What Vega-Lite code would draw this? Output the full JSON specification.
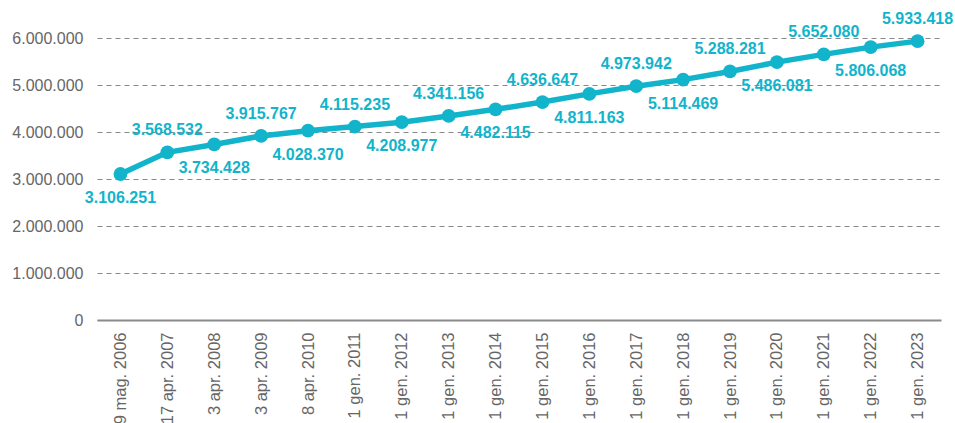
{
  "$schema": "https://vega.github.io/schema/vega-lite/v6.json",
  "width": 844,
  "height": 282,
  "autosize": {"type": "none"},
  "padding": {"left": 97, "top": 38, "right": 14, "bottom": 103},
  "config": {"view": {"stroke": null}, "font": "Liberation Sans"},
  "data": {
    "values": [
      {"date": "9 mag. 2006", "value": 3106251},
      {"date": "17 apr. 2007", "value": 3568532},
      {"date": "3 apr. 2008", "value": 3734428},
      {"date": "3 apr. 2009", "value": 3915767},
      {"date": "8 apr. 2010", "value": 4028370},
      {"date": "1 gen. 2011", "value": 4115235},
      {"date": "1 gen. 2012", "value": 4208977},
      {"date": "1 gen. 2013", "value": 4341156},
      {"date": "1 gen. 2014", "value": 4482115},
      {"date": "1 gen. 2015", "value": 4636647},
      {"date": "1 gen. 2016", "value": 4811163},
      {"date": "1 gen. 2017", "value": 4973942},
      {"date": "1 gen. 2018", "value": 5114469},
      {"date": "1 gen. 2019", "value": 5288281},
      {"date": "1 gen. 2020", "value": 5486081},
      {"date": "1 gen. 2021", "value": 5652080},
      {"date": "1 gen. 2022", "value": 5806068},
      {"date": "1 gen. 2023", "value": 5933418}
    ]
  },
  "transform": [
    {"window": [{"op": "row_number", "as": "idx"}]},
    {"calculate": "replace(format(datum.value, ','), regexp(',', 'g'), '.')", "as": "label"}
  ],
  "encoding": {
    "x": {
      "field": "date",
      "type": "ordinal",
      "sort": null,
      "title": null,
      "axis": {
        "labelAngle": -90,
        "labelFontSize": 16.5,
        "labelColor": "#666666",
        "labelPadding": 12,
        "ticks": false,
        "domainColor": "#8a8a8a",
        "domainWidth": 2,
        "grid": false
      }
    },
    "y": {
      "field": "value",
      "type": "quantitative",
      "title": null,
      "scale": {"domain": [0, 6000000], "nice": false},
      "axis": {
        "values": [0, 1000000, 2000000, 3000000, 4000000, 5000000, 6000000],
        "labelExpr": "replace(format(datum.value, ','), regexp(',', 'g'), '.')",
        "labelFontSize": 16,
        "labelColor": "#666666",
        "labelPadding": 14,
        "ticks": false,
        "domain": false,
        "grid": true,
        "gridColor": "#888888",
        "gridDash": [5, 4],
        "gridWidth": 1
      }
    }
  },
  "layer": [
    {"mark": {"type": "line", "color": "#11b4cb", "strokeWidth": 5.5}},
    {"mark": {"type": "point", "filled": true, "opacity": 1, "color": "#11b4cb", "size": 190}},
    {
      "transform": [{"filter": "datum.idx % 2 == 0"}],
      "mark": {"type": "text", "color": "#11b4cb", "fontWeight": "bold", "fontSize": 16, "dy": -22, "baseline": "middle"},
      "encoding": {"text": {"field": "label"}}
    },
    {
      "transform": [{"filter": "datum.idx % 2 == 1"}],
      "mark": {"type": "text", "color": "#11b4cb", "fontWeight": "bold", "fontSize": 16, "dy": 24, "baseline": "middle"},
      "encoding": {"text": {"field": "label"}}
    }
  ]
}
